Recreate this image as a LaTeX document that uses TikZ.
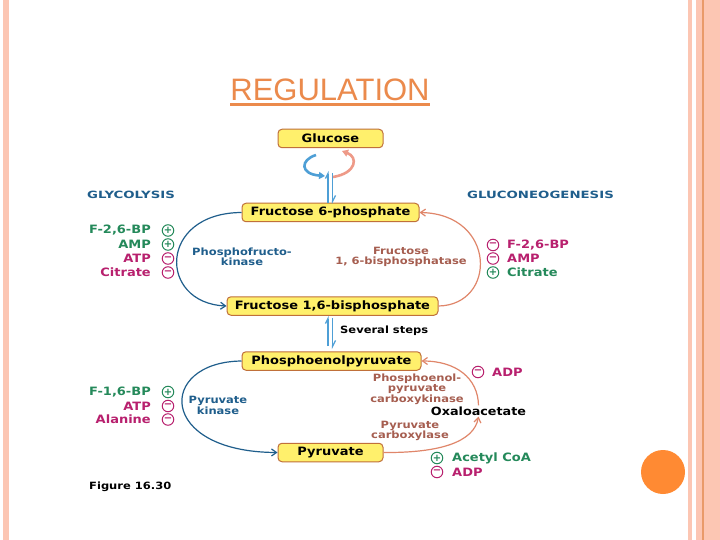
\documentclass[tikz,border=0pt]{standalone}
\usepackage{fontspec}
\setmainfont{DejaVu Sans}
\newfontfamily\titlefont{Liberation Sans}
\newfontfamily\wideA[FakeStretch=1.13]{DejaVu Sans}
\newfontfamily\wideB[FakeStretch=1.15]{DejaVu Sans}
\newfontfamily\wideC[FakeStretch=1.33]{DejaVu Sans}
\usetikzlibrary{arrows.meta}
\definecolor{stripe}{HTML}{FCC6B3}
\definecolor{stripedark}{HTML}{E99A6A}
\definecolor{titlecol}{HTML}{EB8A4C}
\definecolor{boxfill}{HTML}{FFF06C}
\definecolor{boxline}{HTML}{C0703A}
\definecolor{tealb}{HTML}{1F5E8C}
\definecolor{greenc}{HTML}{24895A}
\definecolor{magc}{HTML}{B8206E}
\definecolor{brownc}{HTML}{A65E50}
\definecolor{salmonc}{HTML}{E0866A}
\definecolor{lightb}{HTML}{4E9FD6}
\definecolor{curlsal}{HTML}{EE9A88}
\definecolor{dotc}{HTML}{FF8A33}
\tikzset{
  metab/.style={draw=boxline, fill=boxfill, rounded corners=4pt, line width=1pt,
    minimum height=18.5pt, inner sep=0pt, font=\wideA\bfseries\fontsize{11.5}{13}\selectfont},
  lbl/.style={inner sep=1pt, font=\wideB\bfseries\fontsize{10}{10.3}\selectfont},
  reg/.style={inner sep=0pt, font=\wideA\bfseries\fontsize{11.5}{13}\selectfont},
  sgn/.style={circle, draw, line width=1pt, minimum size=11.5pt, inner sep=0pt,
    font=\bfseries\fontsize{10}{10}\selectfont},
  head/.style={inner sep=0pt, text=tealb, font=\wideC\bfseries\fontsize{10}{11}\selectfont},
  glyarr/.style={draw=tealb, line width=1.2pt, -{Straight Barb[length=5pt,width=7pt]}},
  gnarr/.style={draw=salmonc, line width=1.2pt, -{Straight Barb[length=5pt,width=7pt]}},
  harp/.style={draw=lightb, line width=1.2pt},
}
\begin{document}
\begin{tikzpicture}[x=1pt,y=-1pt]
\useasboundingbox (0,0) rectangle (720,540);
\fill[white] (0,0) rectangle (720,540);
% slide frame
\fill[stripe] (3,0) rectangle (9,540);
\fill[stripe] (688,0) rectangle (692,540);
\fill[stripe] (696,0) rectangle (720,540);
\fill[stripedark] (702.2,0) rectangle (703.6,540);
% title
\node[inner sep=0pt, text=titlecol, font=\titlefont\fontsize{31}{34}\selectfont] (title) at (330,90) {REGULATION};
\draw[titlecol, line width=2.6pt] ([yshift=-3.8pt]title.base west) -- ([yshift=-3.8pt]title.base east);
% metabolites
\node[metab, minimum width=105pt] (glc) at (330.5,138.5) {Glucose};
\node[metab, minimum width=177pt] (f6p) at (330.5,212.5) {Fructose 6-phosphate};
\node[metab, minimum width=211pt] (fbp) at (332.5,306) {Fructose 1,6-bisphosphate};
\node[metab, minimum width=179pt] (pep) at (331.5,361) {Phosphoenolpyruvate};
\node[metab, minimum width=105pt] (pyr) at (330.5,452.5) {Pyruvate};
\node[inner sep=1pt, text=black, font=\wideA\bfseries\fontsize{11.3}{13}\selectfont] (oxa) at (478.5,411) {Oxaloacetate};
% headings
\node[head, anchor=west] (glyh) at (87,195) {GLYCOLYSIS};
\node[head, anchor=west] (gngh) at (467,195) {GLUCONEOGENESIS};
% enzymes
\node[lbl, text=tealb, align=center] (pfk) at (242,257) {Phosphofructo-\\kinase};
\node[lbl, text=brownc, align=center] (fbpase) at (401,257) {Fructose\\1, 6-bisphosphatase};
\node[lbl, text=tealb, align=center] (pk) at (218,405.5) {Pyruvate\\kinase};
\node[lbl, text=brownc, align=center] (pepck) at (417,389) {Phosphoenol-\\pyruvate\\carboxykinase};
\node[lbl, text=brownc, align=center] (pc) at (410,431) {Pyruvate\\carboxylase};
\node[lbl, text=black, anchor=west] (sev) at (339,331) {Several steps};
% left regulators upper
\node[reg, text=greenc, anchor=east] (r1) at (151,230.5) {F-2,6-BP};
\node[sgn, draw=greenc, text=greenc] (s1) at (168,230.5) {+};
\node[reg, text=greenc, anchor=east] (r2) at (151,244.5) {AMP};
\node[sgn, draw=greenc, text=greenc] (s2) at (168,244.5) {+};
\node[reg, text=magc, anchor=east] (r3) at (151,258.5) {ATP};
\node[sgn, draw=magc, text=magc] (s3) at (168,258.5) {−};
\node[reg, text=magc, anchor=east] (r4) at (151,272.5) {Citrate};
\node[sgn, draw=magc, text=magc] (s4) at (168,272.5) {−};
% right regulators upper
\node[sgn, draw=magc, text=magc] (s5) at (493,245) {−};
\node[reg, text=magc, anchor=west] (r5) at (507,245) {F-2,6-BP};
\node[sgn, draw=magc, text=magc] (s6) at (493,258.5) {−};
\node[reg, text=magc, anchor=west] (r6) at (507,258.5) {AMP};
\node[sgn, draw=greenc, text=greenc] (s7) at (493,272.5) {+};
\node[reg, text=greenc, anchor=west] (r7) at (507,272.5) {Citrate};
% left regulators lower
\node[reg, text=greenc, anchor=east] (r8) at (151,392) {F-1,6-BP};
\node[sgn, draw=greenc, text=greenc] (s8) at (168,392) {+};
\node[reg, text=magc, anchor=east] (r9) at (151,406) {ATP};
\node[sgn, draw=magc, text=magc] (s9) at (168,406) {−};
\node[reg, text=magc, anchor=east] (r10) at (151,419.5) {Alanine};
\node[sgn, draw=magc, text=magc] (s10) at (168,419.5) {−};
% right regulators lower
\node[sgn, draw=magc, text=magc] (s11) at (478,372) {−};
\node[reg, text=magc, anchor=west] (r11) at (492,372) {ADP};
\node[sgn, draw=greenc, text=greenc] (s12) at (437,458) {+};
\node[reg, text=greenc, anchor=west] (r12) at (452,458) {Acetyl CoA};
\node[sgn, draw=magc, text=magc] (s13) at (437,472) {−};
\node[reg, text=magc, anchor=west] (r13) at (452,472) {ADP};
% figure caption
\node[inner sep=0pt, anchor=west, font=\wideB\bfseries\fontsize{10}{11}\selectfont] (fig) at (89,487) {Figure 16.30};
% orange dot
\node[circle, fill=dotc, minimum size=44pt, inner sep=0pt] (dot) at (663,472) {};
% glycolysis / gluconeogenesis arrows
\draw[glyarr] (f6p.west) .. controls (158,213) and (158,303) .. (fbp.west);
\draw[gnarr] (fbp.east) .. controls (497,305) and (497,214) .. (f6p.east);
\draw[glyarr] (pep.west) .. controls (157,362) and (157,452) .. (pyr.west);
\draw[gnarr] (pyr.east) .. controls (440,453) and (474,442) .. (oxa.south);
\draw[gnarr] (oxa.north) .. controls (478,378) and (456,361) .. (pep.east);
% glucose <-> F6P
\coordinate (ha) at (328,203);
\coordinate (hb) at (328,171);
\coordinate (hc) at (332.5,173);
\coordinate (hd) at (332.5,204);
\draw[harp, -{Straight Barb[left, length=5pt, width=5pt]}] (ha) -- (hb);
\draw[harp, -{Straight Barb[left, length=6pt, width=6pt]}] (hc) -- (hd);
\coordinate (ca) at (316,155);
\coordinate (cb) at (325,176);
\draw[draw=lightb, line width=2.6pt, -{Triangle[length=6pt,width=7pt]}] (ca) .. controls (300,160) and (300,174) .. (cb);
\coordinate (cc) at (333,177);
\coordinate (cd) at (342,151);
\draw[draw=curlsal, line width=2.6pt, -{Triangle[length=6pt,width=7pt]}] (cc) .. controls (357,173) and (358,157) .. (cd);
% several steps
\coordinate (sa) at (328,346);
\coordinate (sb) at (328,316);
\coordinate (sc) at (332.5,318);
\coordinate (sd) at (332.5,349);
\draw[harp, -{Straight Barb[left, length=5pt, width=5pt]}] (sa) -- (sb);
\draw[harp, -{Straight Barb[left, length=6pt, width=6pt]}] (sc) -- (sd);
\end{tikzpicture}
\end{document}
